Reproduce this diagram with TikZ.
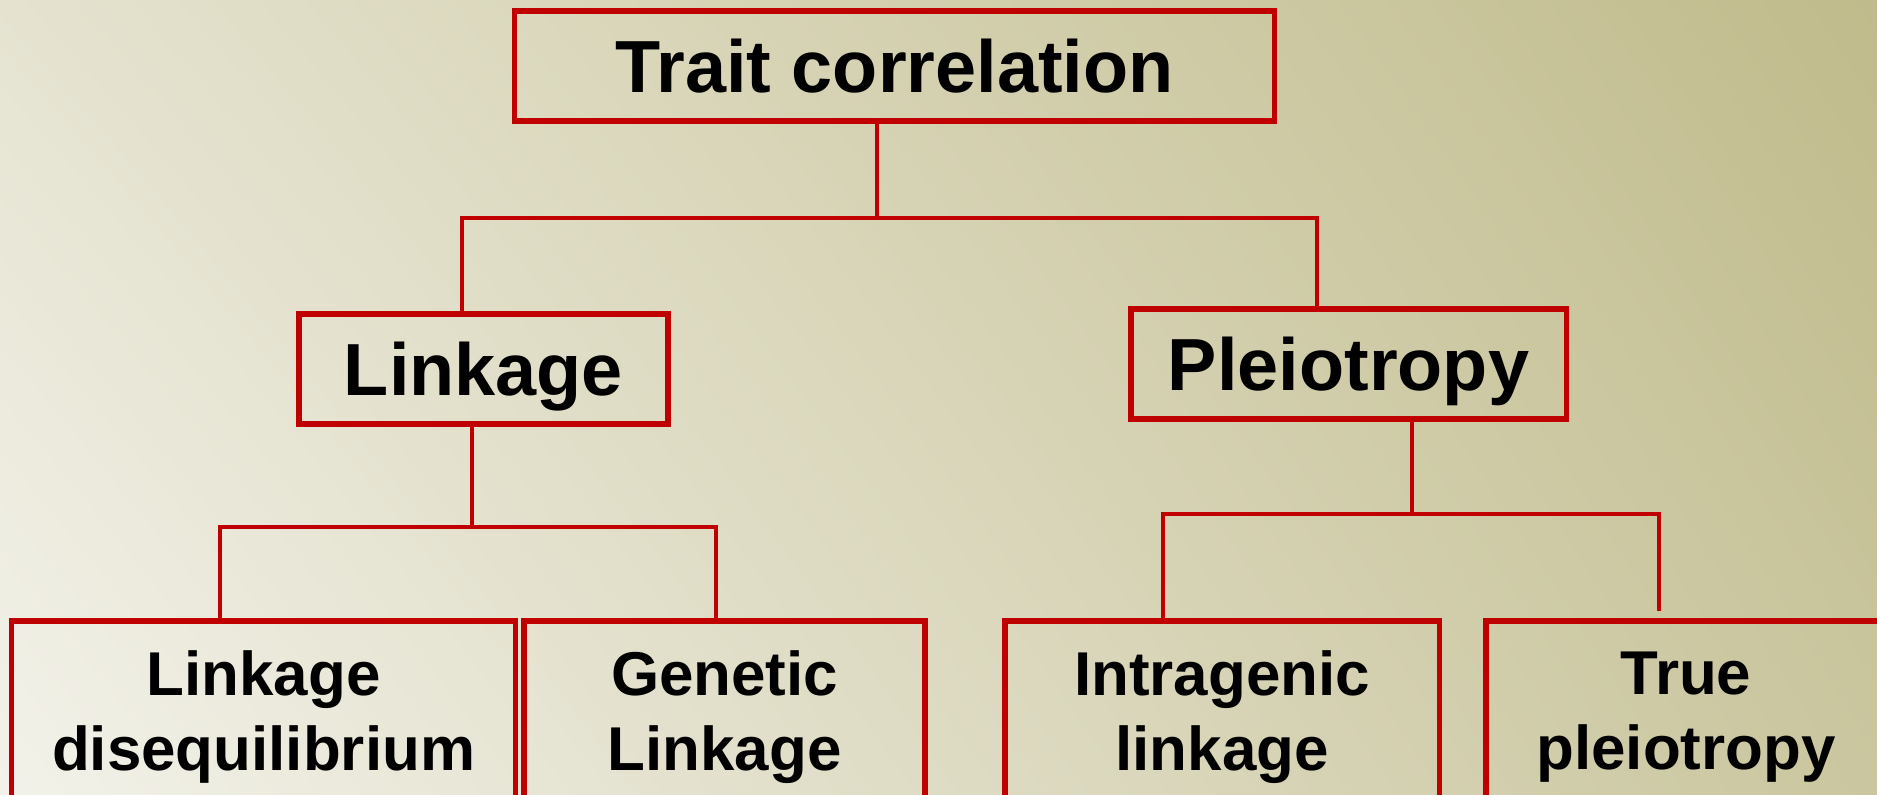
\documentclass[tikz,border=0pt]{standalone}
\usepackage{fontspec}
\setmainfont{Liberation Sans}
\usetikzlibrary{arrows.meta,shadings}

\definecolor{boxred}{HTML}{C00000}
\definecolor{bgUL}{HTML}{E5E3D0}
\definecolor{bgUR}{HTML}{C0BB8B}
\definecolor{bgLL}{HTML}{F3F2EA}
\definecolor{bgLR}{HTML}{CAC69F}

\begin{document}
\begin{tikzpicture}[x=0.01cm, y=-0.01cm,
    box/.style={draw=boxred, line width=1.5pt, inner sep=0pt, align=center},
    head/.style={box, text depth=0pt, font=\bfseries\fontsize{21}{25}\selectfont},
    leaf/.style={box, font=\bfseries\fontsize{17.6}{21.3}\selectfont},
    link/.style={boxred, line width=1.2pt}]
  % background
  \useasboundingbox (0,0) rectangle (1877,795);
  \clip (0,0) rectangle (1877,795);
  \shade[upper left=bgUL, upper right=bgUR, lower left=bgLL, lower right=bgLR]
    (0,0) rectangle (1877,795);

  % boxes
  \node[head, minimum width=7.59cm, minimum height=1.10cm] (trait) at (894.5,66) {Trait correlation};
  \node[head, minimum width=3.69cm, minimum height=1.10cm] (linkage) at (483.5,369) {Linkage};
  \node[head, minimum width=4.35cm, minimum height=1.10cm] (pleio) at (1348.5,364) {Pleiotropy};

  \node[leaf, minimum width=5.03cm, minimum height=1.92cm] (ld) at (263.5,717) {Linkage\\disequilibrium};
  \node[leaf, minimum width=4.01cm, minimum height=1.92cm] (gen) at (724.5,717) {Genetic\\Linkage};
  \node[leaf, minimum width=4.34cm, minimum height=1.92cm] (intra) at (1222,717) {Intragenic\\linkage};
  \node[leaf, minimum width=4.00cm, minimum height=1.92cm] (true) at (1686,717) {True\\pleiotropy};

  % junctions
  \coordinate (j0) at (877,218);
  \coordinate (a0) at (462,218);
  \coordinate (b0) at (1317,218);
  \coordinate (j1) at (472,527);
  \coordinate (a1) at (220,527);
  \coordinate (b1) at (716,527);
  \coordinate (j2) at (1412,514);
  \coordinate (a2) at (1163,514);
  \coordinate (e2) at (1659,611);

  % connectors
  \draw[link] (trait.south -| j0) -- (j0);
  \draw[link] (linkage.north -| a0) |- (j0) -| (pleio.north -| b0);
  \draw[link] (linkage.south -| j1) -- (j1);
  \draw[link] (ld.north -| a1) |- (j1) -| (gen.north -| b1);
  \draw[link] (pleio.south -| j2) -- (j2);
  \draw[link] (intra.north -| a2) |- (j2) -| (e2);
\end{tikzpicture}
\end{document}
